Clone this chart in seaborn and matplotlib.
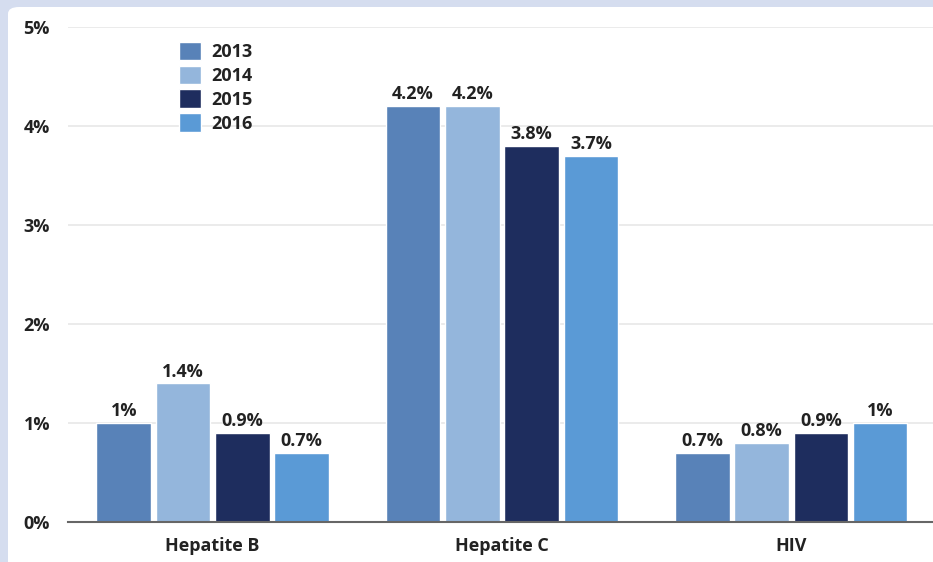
import numpy as np
import pandas as pd
import matplotlib
matplotlib.use("Agg")
import matplotlib.pyplot as plt
from matplotlib.patches import FancyBboxPatch
import seaborn as sns

# data
categories = ["Hepatite B", "Hepatite C", "HIV"]
years = ["2013", "2014", "2015", "2016"]
values = {
    "2013": [1.0, 4.2, 0.7],
    "2014": [1.4, 4.2, 0.8],
    "2015": [0.9, 3.8, 0.9],
    "2016": [0.7, 3.7, 1.0],
}
labels = {
    "2013": ["1%", "4.2%", "0.7%"],
    "2014": ["1.4%", "4.2%", "0.8%"],
    "2015": ["0.9%", "3.8%", "0.9%"],
    "2016": ["0.7%", "3.7%", "1%"],
}
colors = ["#5882b8", "#94b6dc", "#1e2d5e", "#5a9ad6"]

rows = []
for y in years:
    for c, v in zip(categories, values[y]):
        rows.append({"cat": c, "year": y, "val": v})
df = pd.DataFrame(rows)

sns.set_style("white")
plt.rcParams["font.family"] = ["Open Sans", "DejaVu Sans"]
FS = 13
TXT = "#222222"

fig = plt.figure(figsize=(9.33, 5.62), dpi=100)
fig.patch.set_facecolor("#d5ddef")
panel = FancyBboxPatch((8 / 933, -0.05), 1.1, 1 - 7 / 562 + 0.05,
                       boxstyle="round,pad=0,rounding_size=0.012",
                       transform=fig.transFigure, facecolor="white",
                       edgecolor="none", zorder=-10)
fig.patches.append(panel)

ax = fig.add_axes([68 / 933, 40 / 562, 1 - 68 / 933, (522 - 27) / 562])
ax.set_facecolor("none")
ax.set_zorder(1)

sns.barplot(data=df, x="cat", y="val", hue="year", palette=colors,
            width=0.82, gap=0.08, ax=ax, saturation=1, legend=True)

for cont, y in zip(ax.containers, years):
    ax.bar_label(cont, labels=labels[y], padding=2, fontsize=FS,
                 fontweight="bold", color=TXT)

ax.set_ylim(0, 5.0)
ax.set_xlim(-0.5, 2.49)
ax.set_yticks(range(6))
ax.set_yticklabels([f"{i}%" for i in range(6)], fontsize=FS,
                   fontweight="bold", color=TXT)
ax.tick_params(axis="y", length=0, pad=13)
ax.tick_params(axis="x", length=0, pad=11)
for t in ax.get_xticklabels():
    t.set_fontsize(FS)
    t.set_fontweight("bold")
    t.set_color(TXT)
ax.set_xlabel("")
ax.set_ylabel("")
ax.yaxis.grid(True, color="#e8e8e8", linewidth=1.2)
ax.set_axisbelow(True)
for s in ["top", "right", "left"]:
    ax.spines[s].set_visible(False)
ax.spines["bottom"].set_color("#666666")
ax.spines["bottom"].set_linewidth(1.5)
ax.spines["bottom"].set_zorder(5)

leg = ax.legend(loc="upper left", bbox_to_anchor=(0.12, 0.985), frameon=False,
                fontsize=FS, handlelength=1.2, handleheight=1.2,
                handletextpad=0.6, labelspacing=0.25, borderaxespad=0)
for t in leg.get_texts():
    t.set_fontweight("bold")
    t.set_color(TXT)

fig.savefig("out.png", dpi=100, facecolor=fig.get_facecolor())
